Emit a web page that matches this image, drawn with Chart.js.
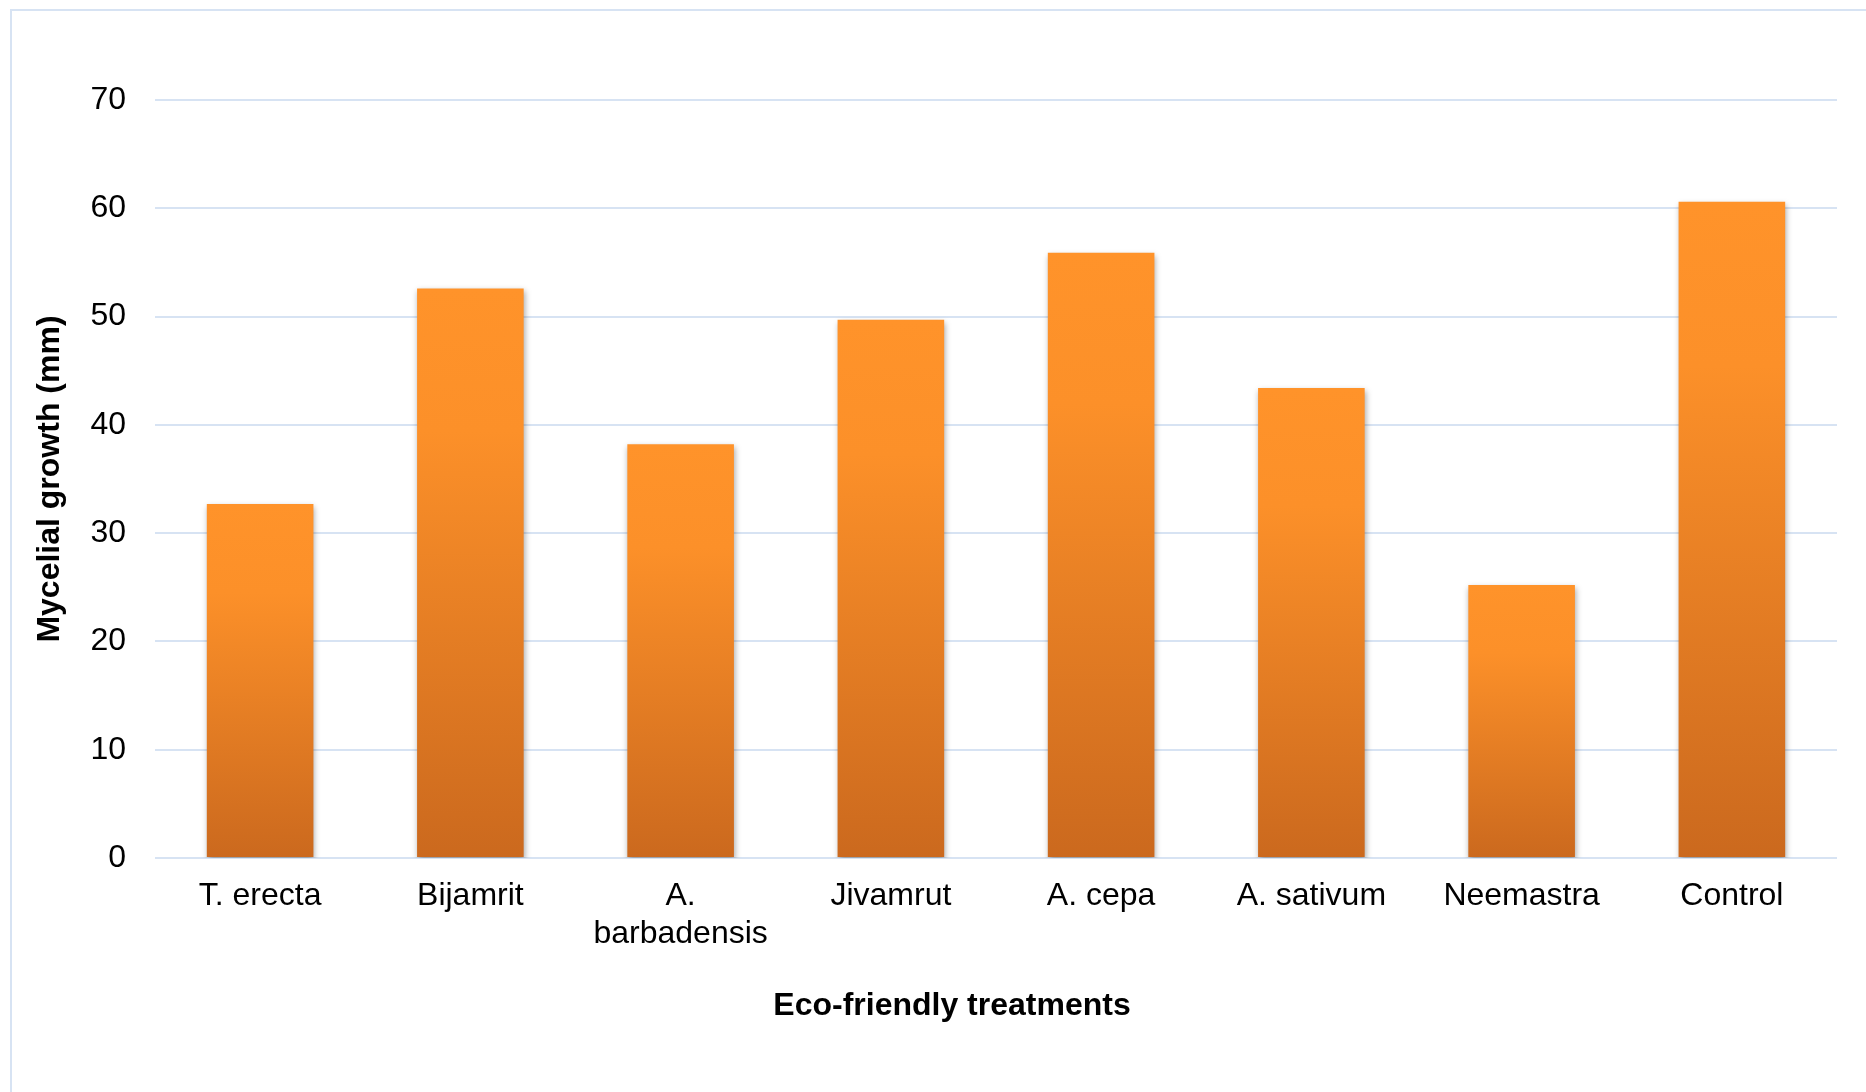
<!DOCTYPE html>
<html>
<head>
<meta charset="utf-8">
<title>Mycelial growth</title>
<script src="https://cdn.jsdelivr.net/npm/chart.js@4/dist/chart.umd.min.js"></script>
<style>
  html, body { margin: 0; padding: 0; background: #fff; }
  #wrap { width: 1866px; height: 1092px; }
</style>
</head>
<body>
<div id="wrap"><canvas id="growthChart" width="1866" height="1092"></canvas></div>
<script>
// treatments and mean mycelial growth (mm)
const treatments = ['T. erecta', 'Bijamrit', ['A.', 'barbadensis'], 'Jivamrut', 'A. cepa', 'A. sativum', 'Neemastra', 'Control'];
const growth = [32.7, 52.6, 38.2, 49.7, 55.9, 43.4, 25.2, 60.6];
const yTicks = [0, 10, 20, 30, 40, 50, 60, 70];

const FONT = '"Liberation Sans", Arial, Helvetica, sans-serif';
const gridBlue = '#D7E3F3';

// vertical orange gradient, one per bar (bright top, darker base)
function barFill(context) {
    const chart = context.chart;
    const y = chart.scales.y;
    if (!y || context.type !== 'data') return '#F68C28';
    const top = y.getPixelForValue(context.raw);
    const base = y.getPixelForValue(0);
    if (!isFinite(top) || !isFinite(base) || top === base) return '#F68C28';
    const g = chart.ctx.createLinearGradient(0, top, 0, base);
    g.addColorStop(0, '#FF932A');
    g.addColorStop(0.25, '#FC9029');
    g.addColorStop(1, '#CB691E');
    return g;
}

// thin blue frame along the top and left edges
const framePlugin = {
    id: 'frame',
    beforeDraw(chart) {
        const ctx = chart.ctx;
        ctx.save();
        ctx.strokeStyle = gridBlue;
        ctx.lineWidth = 2;
        ctx.beginPath();
        ctx.moveTo(11, chart.height);
        ctx.lineTo(11, 10);
        ctx.lineTo(chart.width, 10);
        ctx.stroke();
        ctx.restore();
    }
};

// soft drop shadow under the bars
const shadowPlugin = {
    id: 'barShadow',
    beforeDatasetsDraw(chart) {
        const ctx = chart.ctx;
        ctx.save();
        ctx.shadowColor = 'rgba(0,0,0,0.35)';
        ctx.shadowBlur = 6;
        ctx.shadowOffsetX = 1;
        ctx.shadowOffsetY = 3;
    },
    afterDatasetsDraw(chart) {
        chart.ctx.restore();
    }
};

// x-axis title, centred on the outer frame
const xTitlePlugin = {
    id: 'xTitle',
    afterDraw(chart) {
        const ctx = chart.ctx;
        ctx.save();
        ctx.font = 'bold 32px ' + FONT;
        ctx.fillStyle = '#000';
        ctx.textAlign = 'center';
        ctx.textBaseline = 'middle';
        ctx.fillText('Eco-friendly treatments', 952, 1006);
        ctx.restore();
    }
};

const ctx = document.getElementById('growthChart').getContext('2d');
new Chart(ctx, {
    type: 'bar',
    data: {
        labels: treatments,
        datasets: [{
            label: 'Mycelial growth (mm)',
            data: growth,
            backgroundColor: barFill,
            borderWidth: 0,
            categoryPercentage: 1,
            barPercentage: 0.507
        }]
    },
    options: {
        responsive: false,
        animation: false,
        layout: { padding: { top: 100, right: 29, bottom: 0, left: 0 } },
        plugins: {
            legend: { display: false },
            tooltip: { enabled: false }
        },
        scales: {
            x: {
                afterFit(scale) { scale.height = 234; },
                grid: { display: false },
                border: { display: false },
                ticks: {
                    color: '#000',
                    padding: 12,
                    maxRotation: 0,
                    autoSkip: false,
                    font: { family: FONT, size: 32, lineHeight: 1.16 }
                }
            },
            y: {
                min: 0,
                max: 70,
                afterBuildTicks(scale) {
                    scale.ticks = yTicks.map(v => ({ value: v }));
                },
                afterFit(scale) { scale.width = 155; },
                grid: { color: gridBlue, lineWidth: 2, drawTicks: false },
                border: { display: false },
                ticks: {
                    color: '#000',
                    padding: 29,
                    font: { family: FONT, size: 32 }
                },
                title: {
                    display: true,
                    text: 'Mycelial growth (mm)',
                    color: '#000',
                    font: { family: FONT, size: 32, weight: 'bold', lineHeight: 1.2 },
                    padding: { top: 31, bottom: 0 }
                }
            }
        }
    },
    plugins: [framePlugin, shadowPlugin, xTitlePlugin]
});
</script>
</body>
</html>
